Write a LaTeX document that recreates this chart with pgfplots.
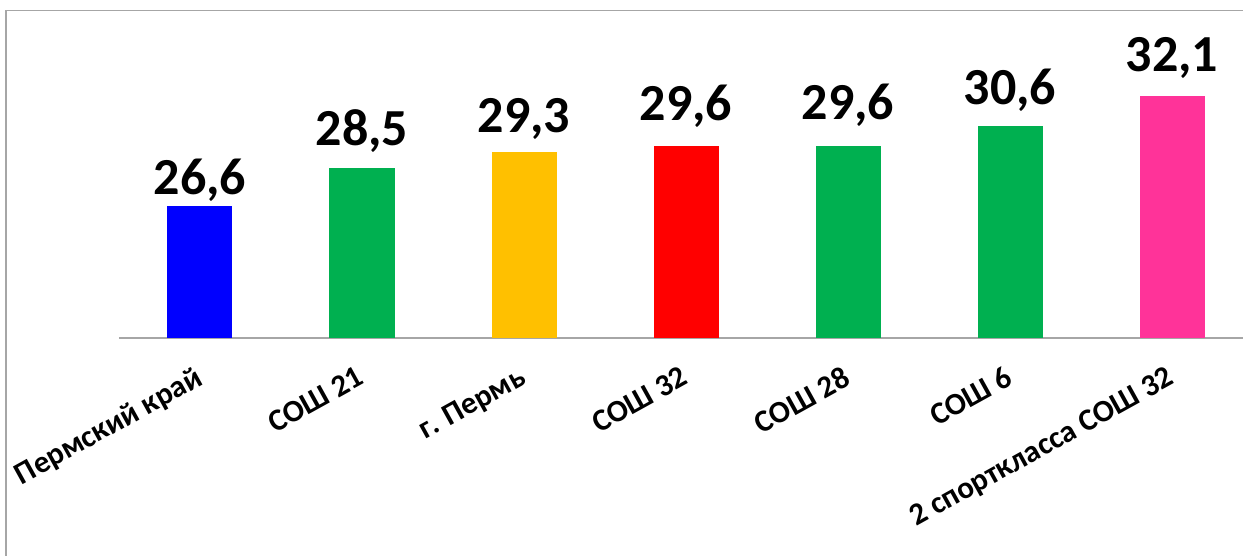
\documentclass[border=0pt]{standalone}
\usepackage{pgfplots}
\pgfplotsset{compat=1.18}
\usepackage{fontspec}
\setmainfont{Carlito}
\definecolor{cblue}{HTML}{0000FF}
\definecolor{cgreen}{HTML}{00B050}
\definecolor{cyellow}{HTML}{FFC000}
\definecolor{cred}{HTML}{FF0000}
\definecolor{cpink}{HTML}{FF3399}
\definecolor{axgray}{HTML}{A6A6A6}
\begin{document}
\begin{tikzpicture}
\path[use as bounding box] (-59.5pt,-109pt) rectangle (562pt,169pt);
\draw[color=axgray, line width=0.7pt] (-56.5pt,-130pt) -- (-56.5pt,163.75pt) -- (600pt,163.75pt);
\begin{axis}[
  at={(0,0)}, anchor=south west,
  scale only axis, width=567pt, height=140pt,
  xmin=-0.5, xmax=6.5, ymin=20, ymax=34,
  clip=false,
  axis x line=bottom, axis y line=none,
  axis line style={-, draw=axgray, line width=0.7pt},
  xtick={0,1,2,3,4,5,6},
  xticklabels={Пермский край, СОШ 21, г. Пермь, СОШ 32, СОШ 28, СОШ 6, 2 спорткласса СОШ 32},
  major tick length=0pt,
  ytick=\empty,
  xticklabel style={font=\fontsize{15.5}{15.5}\selectfont\bfseries, inner sep=0pt, xshift=-3pt, yshift=-13.5pt, rotate=29, anchor=north east},
  ybar, bar width=32.5pt, bar shift=0pt,
  /pgf/number format/use comma,
  /pgf/number format/fixed,
  /pgf/number format/fixed zerofill,
  /pgf/number format/precision=1,
  /pgf/number format/assume math mode=true,
  nodes near coords,
  nodes near coords style={font=\fontsize{26}{26}\selectfont\bfseries, text=black, anchor=base},
]
\addplot[fill=cblue, draw=none, every node near coord/.append style={yshift=5.5pt}] coordinates {(0,26.6)};
\addplot[fill=cgreen, draw=none, every node near coord/.append style={yshift=11pt}] coordinates {(1,28.5)};
\addplot[fill=cyellow, draw=none, every node near coord/.append style={yshift=9.5pt}] coordinates {(2,29.3)};
\addplot[fill=cred, draw=none, every node near coord/.append style={yshift=12.5pt}] coordinates {(3,29.6)};
\addplot[fill=cgreen, draw=none, every node near coord/.append style={yshift=13pt}] coordinates {(4,29.6)};
\addplot[fill=cgreen, draw=none, every node near coord/.append style={yshift=10.5pt}] coordinates {(5,30.6)};
\addplot[fill=cpink, draw=none, every node near coord/.append style={yshift=12pt}] coordinates {(6,32.1)};
\end{axis}
\end{tikzpicture}
\end{document}
